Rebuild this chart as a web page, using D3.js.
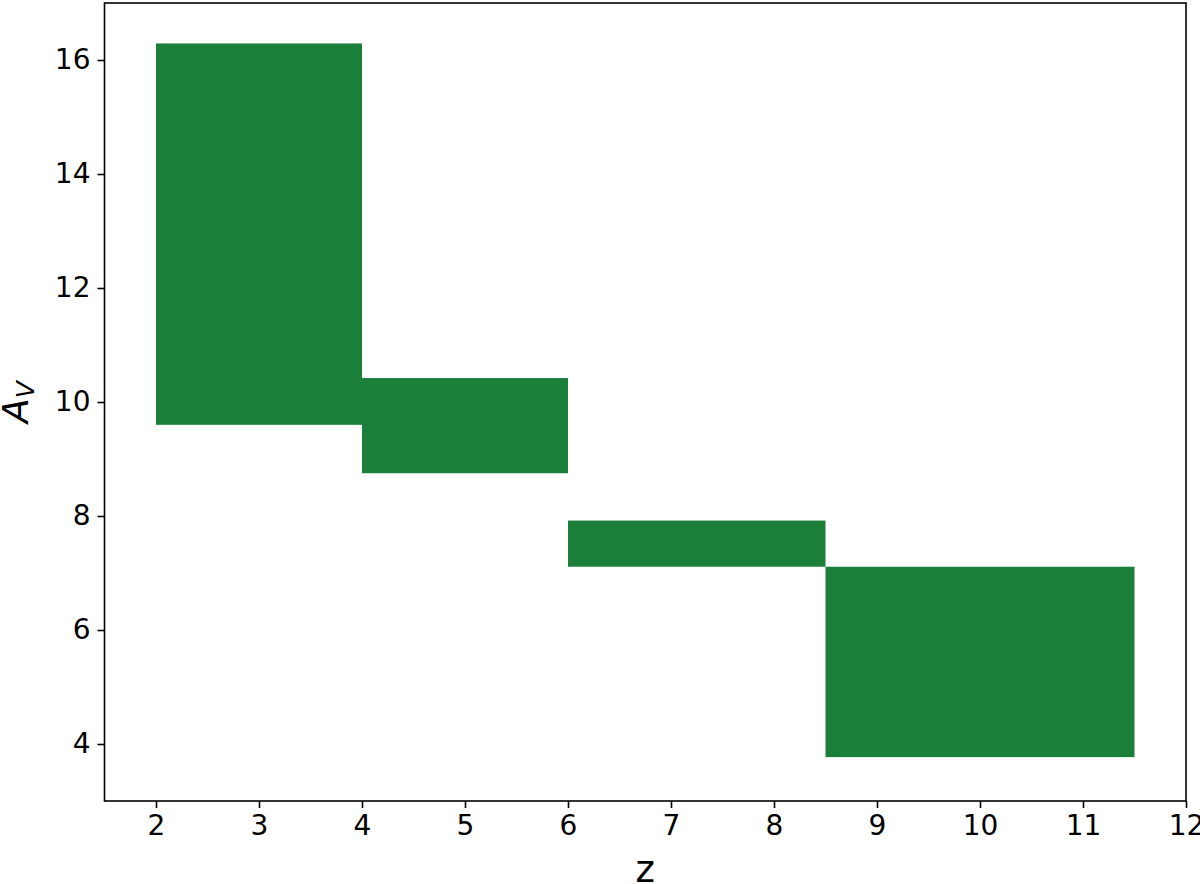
<!DOCTYPE html>
<html>
<head>
<meta charset="utf-8">
<script src="https://cdn.jsdelivr.net/npm/d3@7"></script>
<style>
  body { margin: 0; background: #fff; }
  svg text { font-family: "DejaVu Sans", sans-serif; fill: #000; }
</style>
</head>
<body>
<script>
// ------------  DATA  ------------
const zStart = [2, 4, 6, 8.5];
const zEnd = [4, 6, 8.5, 11.5];
const avLow = [9.6, 8.75, 7.11, 3.77];
const avHigh = [16.29, 10.42, 7.92, 7.11];
const xTicks = [2, 3, 4, 5, 6, 7, 8, 9, 10, 11, 12];
const yTicks = [4, 6, 8, 10, 12, 14, 16];

// ------------  PARAMETERS  ------------
const width = 1200, height = 884;
const margin = [3, 14, 83, 104.5]; // Top, Right, Bottom, Left
const fill = "#1b7f3a";

const svg = d3.select("body").append("svg")
  .attr("width", width).attr("height", height);

// ------------  SCALES  ------------
const x = d3.scaleLinear().domain([1.5, 12]).range([margin[3], width - margin[1]]);
const y = d3.scaleLinear().domain([3, 17]).range([height - margin[2], margin[0]]);

// ------------  RECTS  ------------
const boxes = zStart.map((d, i) => ({ z0: d, z1: zEnd[i], a0: avLow[i], a1: avHigh[i] }));

svg.selectAll("rect.box")
  .data(boxes)
  .enter()
  .append("rect")
  .attr("class", "box")
  .attr("x", d => x(d.z0))
  .attr("y", d => y(d.a1))
  .attr("width", d => x(d.z1) - x(d.z0))
  .attr("height", d => y(d.a0) - y(d.a1))
  .attr("fill", fill);

// ------------  AXES  ------------
const xAxis = d3.axisBottom(x).tickValues(xTicks).tickSize(7).tickPadding(7).tickFormat(d3.format("d"));
const yAxis = d3.axisLeft(y).tickValues(yTicks).tickSize(7).tickPadding(7).tickFormat(d3.format("d"));

const gx = svg.append("g")
  .attr("transform", "translate(0," + y(3) + ")")
  .call(xAxis);
const gy = svg.append("g")
  .attr("transform", "translate(" + x(1.5) + ",0)")
  .call(yAxis);

[gx, gy].forEach(g => {
  g.select(".domain").remove();
  g.selectAll(".tick line").attr("stroke", "#000").attr("stroke-width", 1.6);
  g.selectAll(".tick text").attr("font-size", 28).attr("font-family", "DejaVu Sans, sans-serif");
});

// frame
svg.append("rect")
  .attr("x", x(1.5)).attr("y", y(17))
  .attr("width", x(12) - x(1.5)).attr("height", y(3) - y(17))
  .attr("fill", "none").attr("stroke", "#000").attr("stroke-width", 1.6);

// ------------  LABELS  ------------
svg.append("text")
  .attr("x", (x(1.5) + x(12)) / 2)
  .attr("y", 882)
  .attr("text-anchor", "middle")
  .attr("font-size", 37)
  .text("z");

const yl = svg.append("text")
  .attr("transform", "translate(28," + (y(3) + y(17)) / 2 + ") rotate(-90)")
  .attr("text-anchor", "middle")
  .attr("font-size", 36)
  .attr("font-style", "italic");
yl.append("tspan").text("A");
yl.append("tspan").attr("font-size", 25).attr("dy", 6).text("V");
</script>
</body>
</html>
